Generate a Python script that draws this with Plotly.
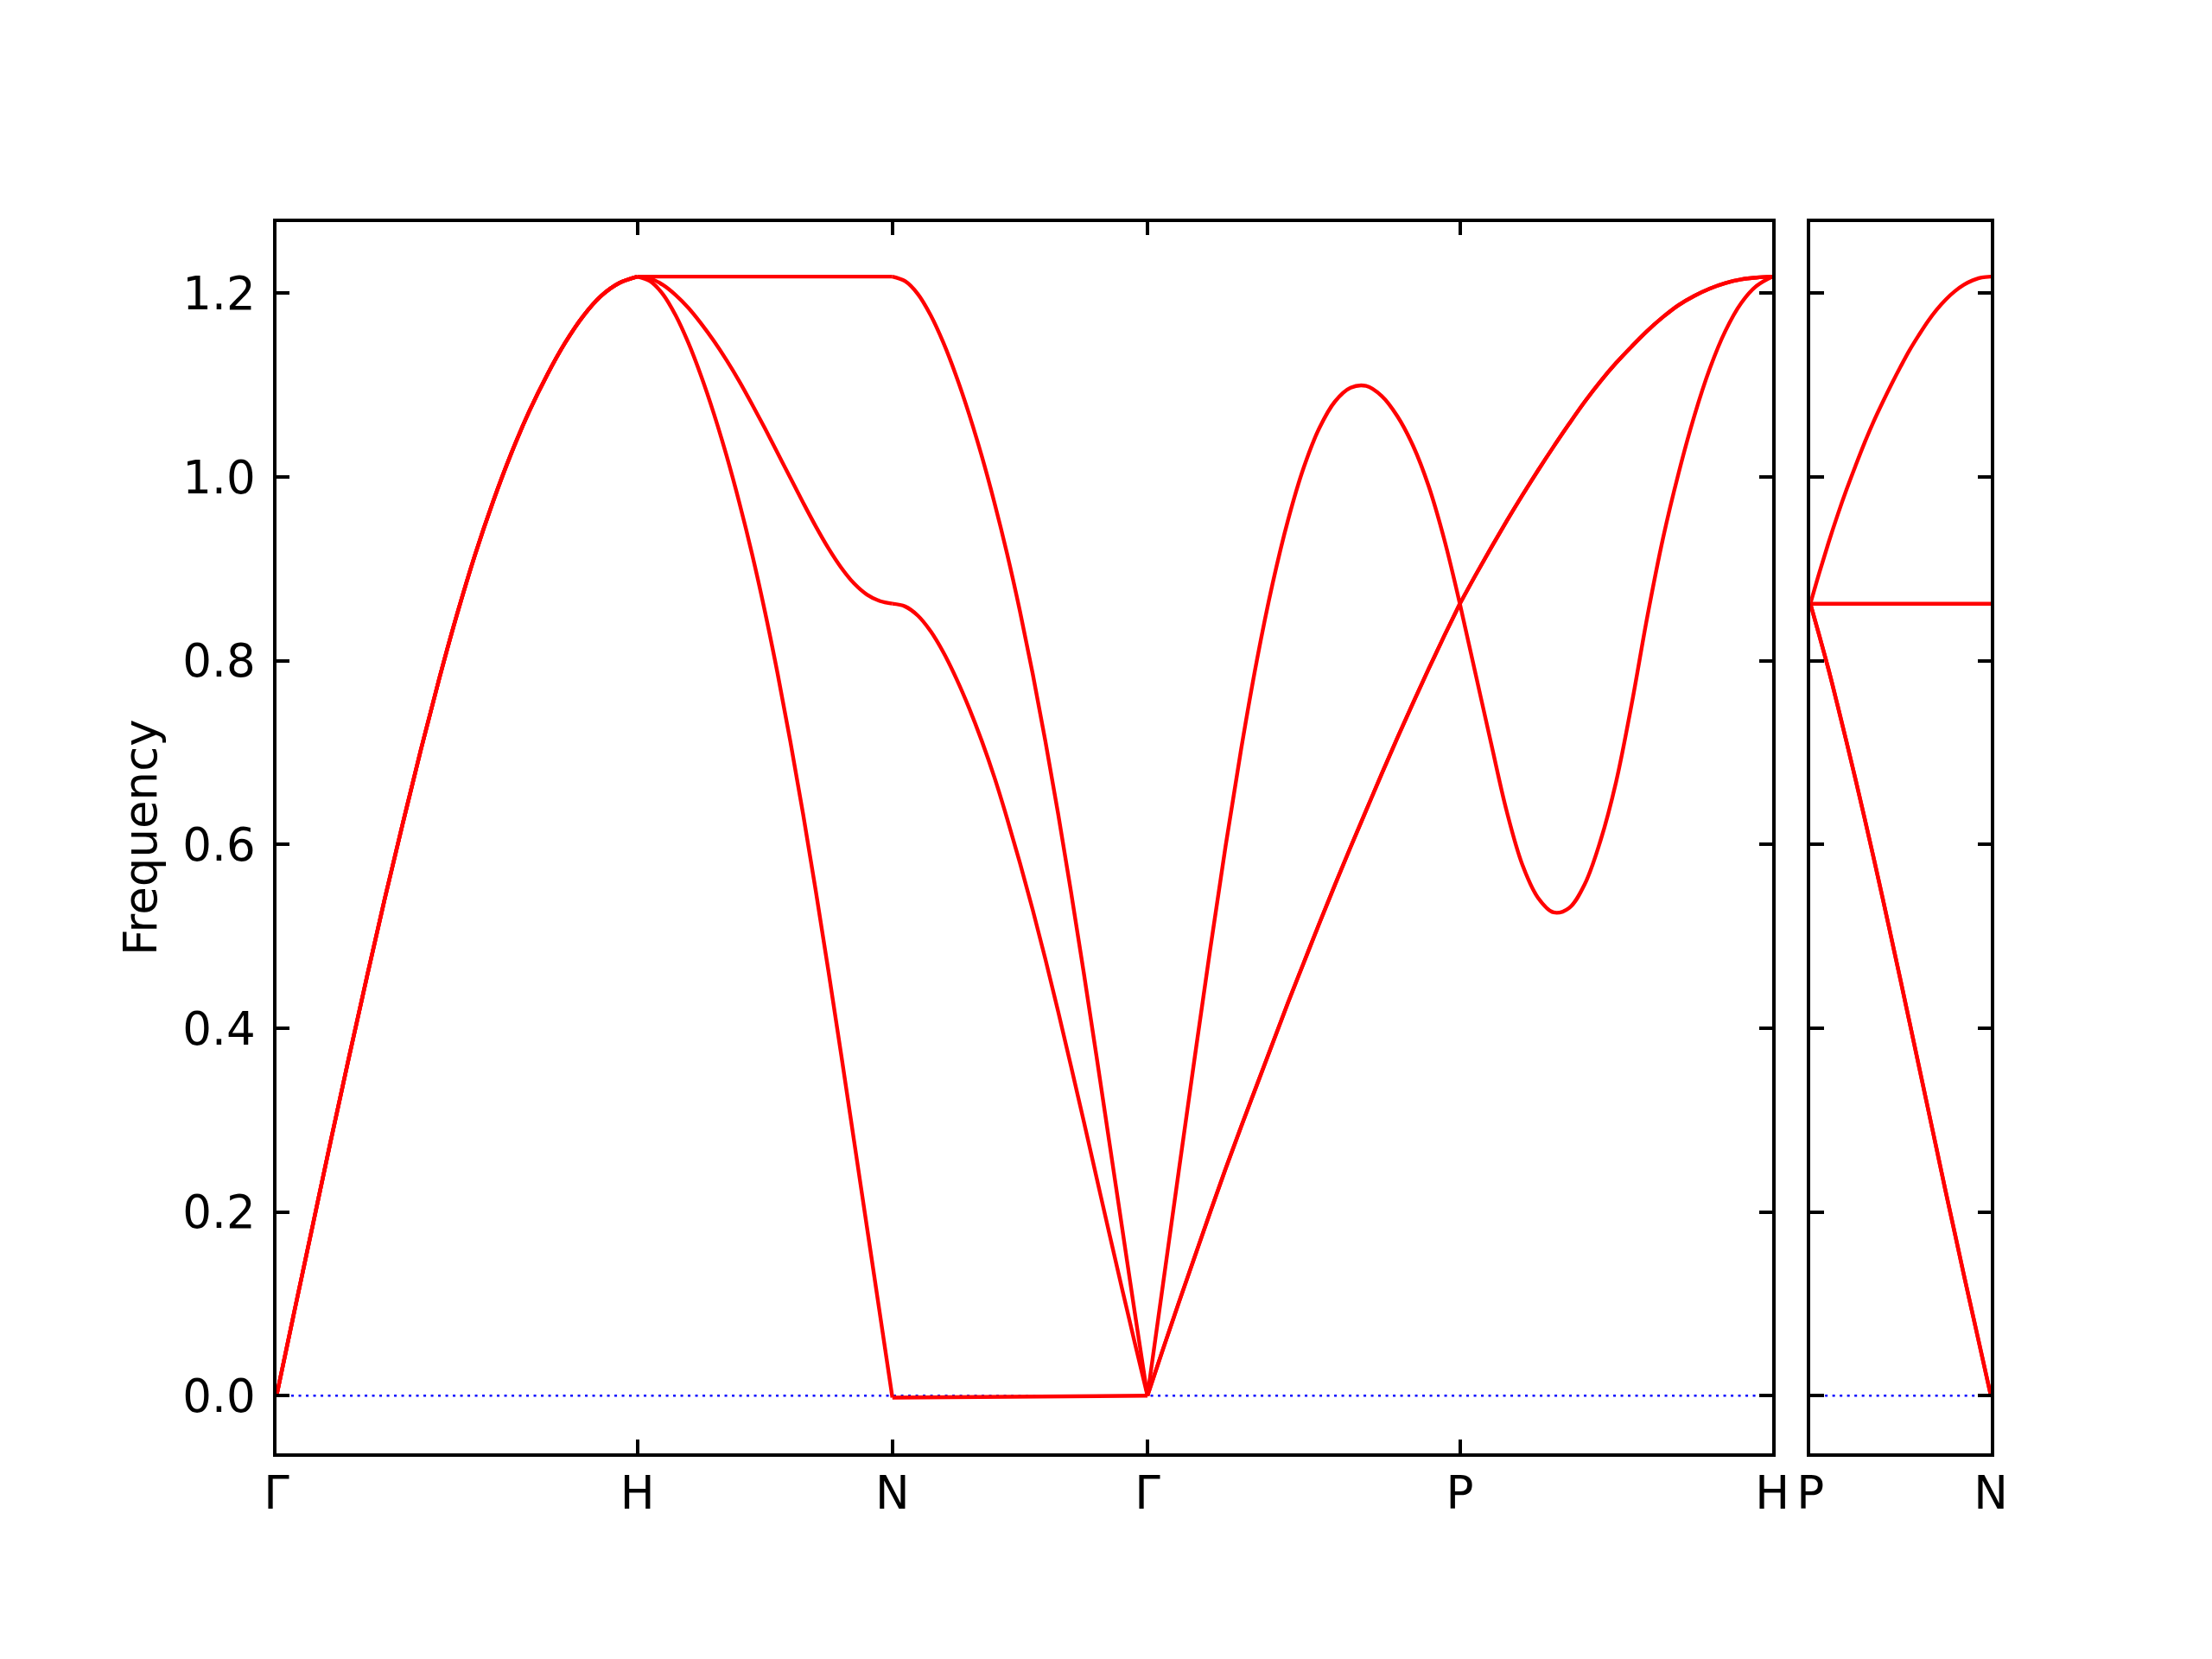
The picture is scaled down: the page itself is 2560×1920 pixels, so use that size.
import plotly.graph_objects as go

# ---- path (cumulative reciprocal-space distance) and labels ----
main_labels = ["Γ", "H", "N", "Γ", "P", "H"]
main_ticks = [0.0, 1.0, 1.7071, 2.4142, 3.2802, 4.1463]
side_labels = ["P", "N"]
side_ticks = [0.0, 0.5]

y_tickvals = [0.0, 0.2, 0.4, 0.6, 0.8, 1.0, 1.2]
y_ticktext = ["0.0", "0.2", "0.4", "0.6", "0.8", "1.0", "1.2"]

# fractional position along a segment of the sampled frequencies
T = [0.00, 0.05, 0.10, 0.15, 0.20, 0.25, 0.30, 0.35, 0.40, 0.45, 0.50,
     0.55, 0.60, 0.65, 0.70, 0.75, 0.80, 0.85, 0.90, 0.95, 1.00]
T_ENDS = [0.0, 1.0]

# ---- band frequencies ----
# Γ - H (triply degenerate)
GH = [0.000, 0.093, 0.185, 0.277, 0.367, 0.455, 0.541, 0.623, 0.703, 0.779, 0.850,
      0.915, 0.973, 1.025, 1.071, 1.111, 1.146, 1.175, 1.197, 1.211, 1.218]
# H - N
HN_1 = [1.218, 1.213, 1.199, 1.176, 1.146, 1.110, 1.069, 1.023, 0.972, 0.916, 0.854,
        0.786, 0.712, 0.633, 0.549, 0.461, 0.370, 0.277, 0.184, 0.091, -0.002]
HN_2 = [1.218, 1.216, 1.209, 1.198, 1.184, 1.167, 1.148, 1.127, 1.104, 1.079, 1.053,
        1.026, 0.999, 0.972, 0.946, 0.922, 0.901, 0.884, 0.872, 0.865, 0.862]
HN_3 = [1.218, 1.218]
# N - Γ
NG_1 = [-0.002, 0.000]
NG_2 = [0.862, 0.859, 0.849, 0.832, 0.809, 0.781, 0.749, 0.713, 0.673, 0.628, 0.580,
        0.529, 0.475, 0.418, 0.359, 0.299, 0.238, 0.177, 0.117, 0.058, 0.000]
NG_3 = [1.218, 1.213, 1.199, 1.176, 1.146, 1.110, 1.069, 1.023, 0.972, 0.916, 0.854,
        0.786, 0.712, 0.633, 0.549, 0.461, 0.370, 0.277, 0.184, 0.091, 0.000]
# Γ - P
GP_low = [0.000, 0.051, 0.101, 0.150, 0.199, 0.247, 0.293, 0.338, 0.383, 0.428, 0.471,
          0.514, 0.556, 0.597, 0.637, 0.677, 0.716, 0.754, 0.791, 0.827, 0.862]
GP_high = [0.000, 0.122, 0.244, 0.365, 0.484, 0.598, 0.704, 0.800, 0.883, 0.953, 1.010,
           1.053, 1.082, 1.097, 1.099, 1.088, 1.066, 1.034, 0.990, 0.932, 0.862]
# P - H
PH_dip = [0.862, 0.786, 0.710, 0.636, 0.578, 0.542, 0.526, 0.531, 0.557, 0.604, 0.668,
          0.753, 0.848, 0.933, 1.004, 1.066, 1.118, 1.159, 1.189, 1.208, 1.218]
PH_rise = [0.862, 0.893, 0.923, 0.952, 0.980, 1.007, 1.033, 1.058, 1.082, 1.104, 1.124,
           1.142, 1.159, 1.174, 1.187, 1.197, 1.205, 1.211, 1.215, 1.217, 1.218]
# P - N (side panel)
PN_up = [0.862, 0.896, 0.928, 0.958, 0.986, 1.012, 1.037, 1.060, 1.081, 1.101, 1.120,
         1.138, 1.154, 1.169, 1.182, 1.193, 1.202, 1.209, 1.214, 1.217, 1.218]
PN_flat = [0.862, 0.862]
PN_down = [0.862, 0.827, 0.791, 0.752, 0.712, 0.671, 0.629, 0.586, 0.542, 0.497, 0.452,
           0.406, 0.360, 0.314, 0.268, 0.222, 0.177, 0.132, 0.088, 0.044, 0.000]

# (segment index, sample grid, bands)
main_segments = [
    (0, T, [GH, GH, GH]),
    (1, T, [HN_1, HN_2]),
    (1, T_ENDS, [HN_3]),
    (2, T_ENDS, [NG_1]),
    (2, T, [NG_2, NG_3]),
    (3, T, [GP_low, GP_low, GP_high]),
    (4, T, [PH_rise, PH_rise, PH_dip]),
]
side_segments = [
    (T, [PN_up]),
    (T_ENDS, [PN_flat]),
    (T, [PN_down, PN_down]),
]

RED = "#ff0000"
LW = 4.4
FONT = "DejaVu Sans, Liberation Sans, sans-serif"
FS = 53

fig = go.Figure()

# zero reference lines
fig.add_trace(go.Scatter(x=[main_ticks[0], main_ticks[-1]], y=[0, 0], mode="lines",
                         line=dict(color="#0000ff", width=2.4, dash="3px,5.5px"),
                         xaxis="x", yaxis="y", hoverinfo="skip", showlegend=False))
fig.add_trace(go.Scatter(x=[side_ticks[0], side_ticks[-1]], y=[0, 0], mode="lines",
                         line=dict(color="#0000ff", width=2.4, dash="3px,5.5px"),
                         xaxis="x2", yaxis="y2", hoverinfo="skip", showlegend=False))

for seg, grid, bands in main_segments:
    a, b = main_ticks[seg], main_ticks[seg + 1]
    xs = [a + (b - a) * s for s in grid]
    for band in bands:
        fig.add_trace(go.Scatter(x=xs, y=band, mode="lines",
                                 line=dict(color=RED, width=LW, shape="spline", smoothing=1.0),
                                 xaxis="x", yaxis="y", hoverinfo="skip", showlegend=False))

for grid, bands in side_segments:
    a, b = side_ticks[0], side_ticks[1]
    xs = [a + (b - a) * s for s in grid]
    for band in bands:
        fig.add_trace(go.Scatter(x=xs, y=band, mode="lines",
                                 line=dict(color=RED, width=LW, shape="spline", smoothing=1.0),
                                 xaxis="x2", yaxis="y2", hoverinfo="skip", showlegend=False))

axis_common = dict(showline=True, linecolor="black", linewidth=3.6, mirror="ticks",
                   ticks="inside", ticklen=15.6, tickwidth=3.6, tickcolor="black",
                   showgrid=False, zeroline=False, automargin=False,
                   tickfont=dict(family=FONT, size=FS, color="black"))

Y_RANGE = [-0.0624, 1.2777]
# domains compensate the page's 8px body margin
Y_DOMAIN = [0.1283, 0.8705]

fig.update_layout(
    width=2560, height=1920,
    margin=dict(l=0, r=0, t=0, b=0, pad=0),
    paper_bgcolor="white", plot_bgcolor="white",
    showlegend=False,
    xaxis=dict(domain=[0.1219, 0.7981], range=[main_ticks[0], main_ticks[-1]],
               tickmode="array", tickvals=main_ticks, ticktext=main_labels,
               anchor="y", ticklabelstandoff=-3, **axis_common),
    yaxis=dict(domain=Y_DOMAIN, range=Y_RANGE, tickmode="array",
               tickvals=y_tickvals, ticktext=y_ticktext, anchor="x",
               ticklabelstandoff=10, **axis_common),
    xaxis2=dict(domain=[0.8153, 0.8969], range=[side_ticks[0], side_ticks[-1]],
                tickmode="array", tickvals=side_ticks, ticktext=side_labels,
                anchor="y2", ticklabelstandoff=-3, **axis_common),
    yaxis2=dict(domain=Y_DOMAIN, range=Y_RANGE, tickmode="array",
                tickvals=y_tickvals, showticklabels=False, anchor="x2", **axis_common),
    annotations=[dict(text="Frequency", xref="paper", yref="paper",
                      x=0.0606, y=0.4995, xanchor="center", yanchor="middle",
                      textangle=-90, showarrow=False,
                      font=dict(family=FONT, size=FS, color="black"))],
)

fig.write_html("out.html")
